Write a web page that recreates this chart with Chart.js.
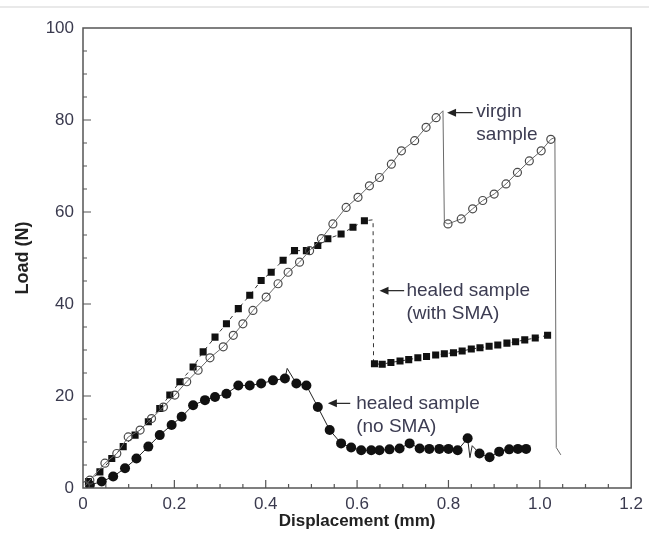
<!DOCTYPE html>
<html>
<head>
<meta charset="utf-8">
<script src="https://cdn.jsdelivr.net/npm/chart.js@4.4.1/dist/chart.umd.min.js"></script>
<style>
  html, body { margin: 0; padding: 0; background: #fff; }
  #wrap { width: 649px; height: 546px; position: relative; }
</style>
</head>
<body>
<div id="wrap"><canvas id="loadChart" width="649" height="546"></canvas></div>
<script>
// measured points (with markers)
const virginX = [0.005, 0.015, 0.048, 0.074, 0.099, 0.125, 0.15, 0.176, 0.201, 0.227, 0.252, 0.278, 0.307, 0.329, 0.35, 0.372, 0.401, 0.427, 0.449, 0.474, 0.496, 0.522, 0.547, 0.576, 0.602, 0.627, 0.649, 0.675, 0.697, 0.726, 0.751, 0.773,
                 0.799, 0.828, 0.853, 0.875, 0.9, 0.926, 0.951, 0.977, 1.003, 1.024];
const virginY = [0.5, 1.7, 5.4, 7.5, 11.1, 12.6, 15.1, 17.6, 20.2, 23.1, 25.6, 28.3, 30.7, 33.2, 35.7, 38.6, 41.5, 44.4, 46.9, 49.1, 51.6, 54.2, 57.4, 61.0, 63.2, 65.7, 67.5, 70.4, 73.3, 75.5, 78.4, 80.5,
                 57.4, 58.5, 60.7, 62.5, 63.9, 66.1, 68.6, 71.1, 73.3, 75.8];
// trace only (no marker): load drops
const virginDropX = [0.788, 0.791, 1.033, 1.036, 1.046];
const virginDropY = [82.0, 57.8, 76.2, 8.8, 7.2];

const smaX = [0.012, 0.037, 0.063, 0.088, 0.114, 0.143, 0.168, 0.19, 0.212, 0.241, 0.263, 0.289, 0.314, 0.34, 0.365, 0.39, 0.412, 0.438, 0.463, 0.489, 0.514, 0.536, 0.565, 0.591, 0.616,
              0.638, 0.655, 0.674, 0.694, 0.713, 0.733, 0.752, 0.772, 0.791, 0.811, 0.83, 0.85, 0.869, 0.889, 0.908, 0.928, 0.947, 0.967, 0.99, 1.017];
const smaY = [1.4, 3.5, 6.4, 9.0, 11.5, 14.4, 17.3, 20.2, 23.1, 26.3, 29.6, 32.8, 35.7, 39.0, 41.9, 45.1, 46.9, 49.5, 51.6, 51.6, 52.7, 54.2, 55.2, 56.7, 58.1,
              27.0, 26.9, 27.3, 27.6, 27.9, 28.3, 28.6, 28.9, 29.2, 29.4, 29.8, 30.2, 30.5, 30.8, 31.1, 31.5, 31.8, 32.2, 32.6, 33.2];
const smaDropX = [0.635, 0.636];
const smaDropY = [58.3, 27.3];

const noSmaX = [0.015, 0.041, 0.066, 0.092, 0.117, 0.143, 0.168, 0.194, 0.216, 0.241, 0.267, 0.289, 0.314, 0.34, 0.365, 0.39, 0.416, 0.442, 0.467, 0.489, 0.514, 0.54, 0.565, 0.587,
                0.609, 0.631, 0.649, 0.671, 0.693, 0.715, 0.737, 0.758, 0.78, 0.8, 0.82, 0.842, 0.868, 0.89, 0.911, 0.933, 0.952, 0.97];
const noSmaY = [0.65, 1.4, 2.5, 4.3, 6.4, 9.0, 11.5, 13.7, 15.5, 18.0, 19.1, 19.8, 20.5, 22.3, 22.3, 22.7, 23.4, 23.8, 22.7, 22.3, 17.6, 12.6, 9.7, 8.8,
                8.2, 8.2, 8.2, 8.4, 8.6, 9.7, 8.6, 8.5, 8.5, 8.5, 8.2, 10.8, 7.5, 6.7, 7.9, 8.4, 8.5, 8.5];
const noSmaSpikeX = [0.447, 0.847, 0.852];
const noSmaSpikeY = [26.0, 6.6, 9.2];

const xTicks = [0, 0.2, 0.4, 0.6, 0.8, 1.0, 1.2];
const yTicks = [0, 20, 40, 60, 80, 100];

// labels with arrows (anchor in data units)
const notes = [
  { lines: ['virgin', 'sample'], tip: [0.797, 81.6], tail: [0.853, 81.6], text: [0.861, 81.7] },
  { lines: ['healed sample', '(with SMA)'], tip: [0.649, 42.9], tail: [0.703, 42.9], text: [0.708, 42.9] },
  { lines: ['healed sample', '(no SMA)'], tip: [0.536, 18.4], tail: [0.585, 18.4], text: [0.598, 18.4] }
];

function build(xs, ys, tx, ty) {
  const pts = xs.map((x, i) => ({ x: x, y: ys[i], m: true }));
  tx.forEach((x, i) => pts.push({ x: x, y: ty[i], m: false }));
  return pts.sort((a, b) => a.x - b.x);
}

const frameAndTicks = {
  id: 'frameAndTicks',
  beforeDraw(chart) {
    const c = chart.ctx;
    c.save();
    c.fillStyle = '#e9e9e9';
    c.fillRect(0, 6, chart.width, 2);
    c.restore();
  },
  afterDraw(chart) {
    const c = chart.ctx;
    const a = chart.chartArea;
    const xs = chart.scales.x, ys = chart.scales.y;
    c.save();
    c.strokeStyle = '#555';
    c.lineWidth = 1.5;
    c.strokeRect(a.left, a.top, a.right - a.left, a.bottom - a.top);
    // inward ticks
    c.lineWidth = 1.2;
    c.beginPath();
    for (let i = 1; i < 24; i++) {
      const px = xs.getPixelForValue(i * 0.05);
      const len = i % 4 === 0 ? 8 : 4;
      c.moveTo(px, a.bottom);
      c.lineTo(px, a.bottom - len);
    }
    for (let i = 1; i < 20; i++) {
      const py = ys.getPixelForValue(i * 5);
      const len = i % 4 === 0 ? 8 : 4;
      c.moveTo(a.left, py);
      c.lineTo(a.left + len, py);
    }
    c.stroke();

    // annotations
    c.font = '19px "Liberation Sans", Arial, sans-serif';
    c.textBaseline = 'middle';
    c.textAlign = 'left';
    notes.forEach(n => {
      const tipX = xs.getPixelForValue(n.tip[0]), tipY = ys.getPixelForValue(n.tip[1]);
      const tailX = xs.getPixelForValue(n.tail[0]);
      c.strokeStyle = '#222';
      c.lineWidth = 1.2;
      c.beginPath();
      c.moveTo(tailX, tipY);
      c.lineTo(tipX + 6, tipY);
      c.stroke();
      c.fillStyle = '#222';
      c.beginPath();
      c.moveTo(tipX, tipY);
      c.lineTo(tipX + 9, tipY - 4);
      c.lineTo(tipX + 9, tipY + 4);
      c.closePath();
      c.fill();
      c.fillStyle = '#3c3c52';
      const tx = xs.getPixelForValue(n.text[0]);
      const ty = ys.getPixelForValue(n.text[1]);
      n.lines.forEach((t, k) => c.fillText(t, tx, ty + k * 23));
    });
    c.restore();
  }
};

const ctx = document.getElementById('loadChart').getContext('2d');
const loadChart = new Chart(ctx, {
  type: 'line',
  data: {
    datasets: [
      {
        label: 'virgin sample',
        data: build(virginX, virginY, virginDropX, virginDropY),
        borderColor: '#6a6a6a',
        borderWidth: 1,
        pointStyle: 'circle',
        pointRadius: c => (c.raw && c.raw.m ? 4 : 0),
        pointBorderColor: '#4a4a4a',
        pointBorderWidth: 1.2,
        pointBackgroundColor: 'rgba(255,255,255,0)',
        tension: 0
      },
      {
        label: 'healed sample (with SMA)',
        data: build(smaX, smaY, smaDropX, smaDropY),
        borderColor: '#333',
        borderWidth: 1,
        borderDash: [4, 4],
        pointStyle: 'rect',
        pointRadius: c => (c.raw && c.raw.m ? 5 : 0),
        pointBorderWidth: 0,
        pointBackgroundColor: '#111',
        tension: 0
      },
      {
        label: 'healed sample (no SMA)',
        data: build(noSmaX, noSmaY, noSmaSpikeX, noSmaSpikeY),
        borderColor: '#222',
        borderWidth: 1,
        pointStyle: 'circle',
        pointRadius: c => (c.raw && c.raw.m ? 5 : 0),
        pointBorderWidth: 0,
        pointBackgroundColor: '#111',
        tension: 0
      }
    ]
  },
  options: {
    responsive: false,
    animation: false,
    layout: { padding: { left: 0, top: 28, right: 17, bottom: 0 } },
    plugins: {
      legend: { display: false },
      tooltip: { enabled: false }
    },
    scales: {
      x: {
        type: 'linear',
        min: 0,
        max: 1.2,
        afterFit: s => { s.height = 58; },
        afterBuildTicks: s => { s.ticks = xTicks.map(v => ({ value: v })); },
        grid: { display: false, drawTicks: false },
        border: { display: false },
        ticks: {
          padding: 6,
          color: '#3a3a4e',
          font: { family: '"Liberation Sans", Arial, sans-serif', size: 17 },
          callback: v => (v === 0 ? '0' : v.toFixed(1))
        },
        title: {
          display: true,
          text: 'Displacement (mm)',
          color: '#222',
          font: { family: '"Liberation Sans", Arial, sans-serif', size: 17, weight: 'bold' },
          padding: { top: 0, bottom: 14 }
        }
      },
      y: {
        type: 'linear',
        min: 0,
        max: 100,
        afterFit: s => { s.width = 83; },
        afterBuildTicks: s => { s.ticks = yTicks.map(v => ({ value: v })); },
        grid: { display: false, drawTicks: false },
        border: { display: false },
        ticks: {
          padding: 9,
          color: '#3a3a4e',
          font: { family: '"Liberation Sans", Arial, sans-serif', size: 17 }
        },
        title: {
          display: true,
          text: 'Load (N)',
          color: '#222',
          font: { family: '"Liberation Sans", Arial, sans-serif', size: 18, weight: 'bold' },
          padding: { top: 12, bottom: 0 }
        }
      }
    }
  },
  plugins: [frameAndTicks]
});
</script>
</body>
</html>
